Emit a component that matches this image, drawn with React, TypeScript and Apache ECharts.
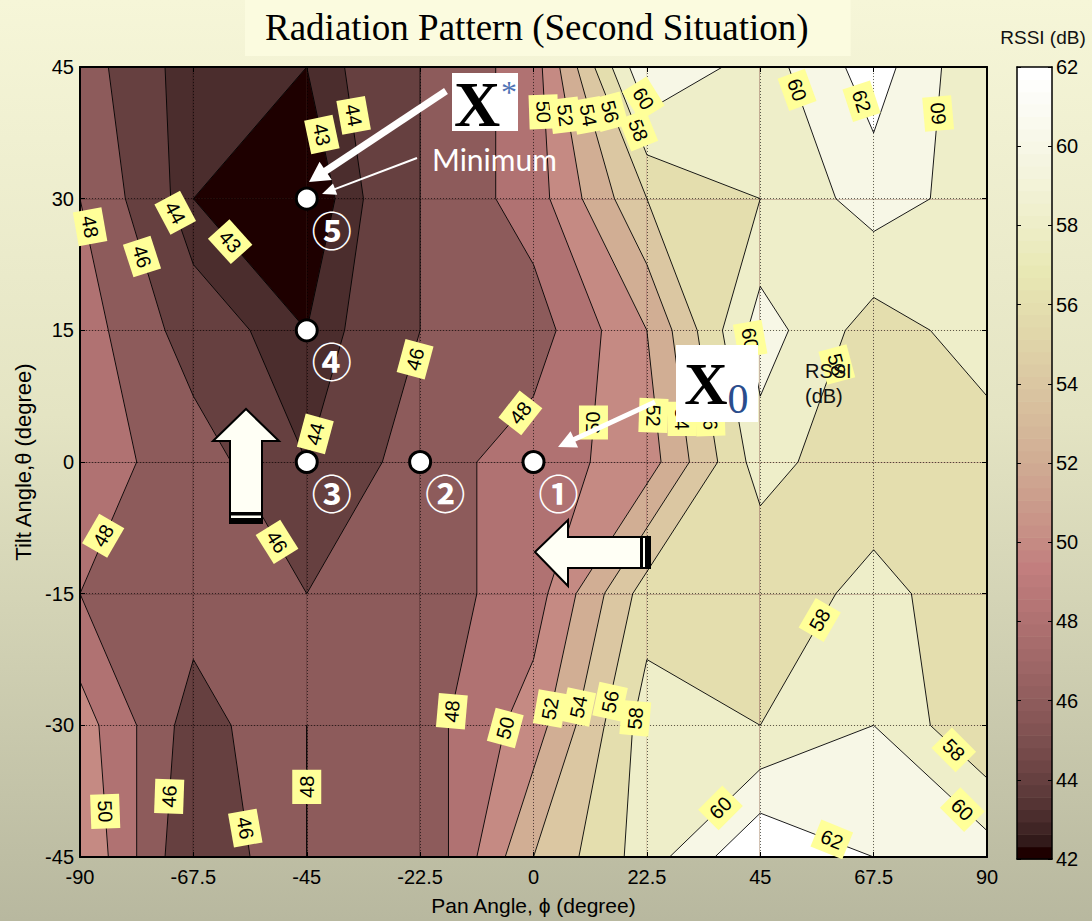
import React, { useEffect, useRef } from "react";
import * as echarts from "echarts";

// ---------- data ----------
const panAngles = [-90, -67.5, -45, -22.5, 0, 22.5, 45, 67.5, 90];
const tiltAngles = [-45, -30, -15, 0, 15, 30, 45];

// RSSI (dB) measured at each pan angle, one row per tilt angle
const rssiTiltMinus45 = [52, 44, 48, 46, 54, 59, 64, 62, 61];
const rssiTiltMinus30 = [51, 45, 48, 47, 51, 59, 58, 60, 56];
const rssiTiltMinus15 = [48, 47, 46, 47, 49, 57, 56, 59, 56];
const rssiTilt0 = [49, 47, 44, 47, 49, 51, 59, 56, 57];
const rssiTilt15 = [49, 45, 43, 46, 47, 52, 61, 57, 59];
const rssiTilt30 = [48, 43, 42, 46, 49, 56, 58, 61, 59];
const rssiTilt45 = [47, 43, 43, 46, 49, 62, 59, 63, 58];
const rssiGrid = [
  rssiTiltMinus45,
  rssiTiltMinus30,
  rssiTiltMinus15,
  rssiTilt0,
  rssiTilt15,
  rssiTilt30,
  rssiTilt45,
];

const contourLevels = [43, 44, 46, 48, 50, 52, 54, 56, 58, 60, 62];
const colorMin = 42;
const colorMax = 62;

// contour labels (position in pan/tilt, text, rotation)
const labelText = [
  "48", "46", "44", "43", "43", "44",
  "50", "52", "54", "56", "58", "60",
  "60", "62", "60",
  "60", "58", "52", "54", "56", "50", "48", "46", "44",
  "46", "48",
  "48", "50", "52", "54", "56", "58",
  "60", "62", "60", "58", "58",
  "50", "46", "46", "48",
];
const labelPan = [
  -88.0, -77.7, -71.1, -60.2, -42.0, -35.7,
  2.0, 6.3, 10.9, 15.2, 20.8, 21.8,
  52.3, 65.1, 80.3,
  43.0, 60.2, 23.8, 29.5, 35.1, 11.9, -2.6, -23.5, -43.3,
  -50.9, -85.4,
  -16.2, -5.6, 3.3, 8.9, 15.2, 20.2,
  37.1, 59.2, 85.1, 83.4, 56.8,
  -85.0, -72.3, -57.2, -45.0,
];
const labelTilt = [
  26.8, 23.4, 28.4, 25.1, 37.3, 39.5,
  39.9, 39.5, 39.5, 39.9, 37.8, 41.4,
  42.4, 41.1, 39.7,
  14.0, 11.1, 5.3, 4.9, 4.9, 4.5, 5.6, 11.7, 3.2,
  -9.1, -8.4,
  -28.4, -30.3, -28.1, -27.9, -27.3, -29.2,
  -39.4, -43.0, -39.6, -32.8, -18.0,
  -39.8, -38.1, -41.7, -37.0,
];
const labelRotate = [
  -80, -72, -62, -48, -78, -80,
  -88, -83, -80, -75, -68, -58,
  -70, -72, 95,
  -80, -75, -92, -90, -88, 90, 52, 75, 75,
  -58, 60,
  85, 75, 80, 78, 78, 85,
  45, -22, -45, -45, 60,
  -88, 88, -80, 90,
];

// search steps
const stepPan = [0, -22.5, -45, -45, -45];
const stepTilt = [0, 0, 0, 15, 30];
const stepMarks = ["①", "②", "③", "④", "⑤"];

// ---------- helpers ----------
const fontSans = '"Liberation Sans", Arial, sans-serif';
const fontSerif = '"Liberation Serif", "Times New Roman", serif';

function pinkColor(v: number): string {
  let k = Math.floor(((v - colorMin) / (colorMax - colorMin)) * 64);
  k = Math.max(0, Math.min(63, k));
  const gray = k / 63;
  const n = 24;
  const hr = k < n ? (k + 1) / n : 1;
  const hg = k < n ? 0 : k < 2 * n ? (k - n + 1) / n : 1;
  const hb = k < 2 * n ? 0 : (k - 2 * n + 1) / (64 - 2 * n);
  const c = (h: number) => Math.round(255 * Math.sqrt((2 * gray + h) / 3));
  return `rgb(${c(hr)},${c(hg)},${c(hb)})`;
}

type Corner = { x: number; y: number; v: number };

function interp(a: Corner, b: Corner, L: number): number[] {
  const t = (L - a.v) / (b.v - a.v);
  return [a.x + t * (b.x - a.x), a.y + t * (b.y - a.y)];
}

function superLevel(c: Corner[], L: number): number[][][] {
  const hi = c.map((p) => p.v >= L);
  const nHi = hi.filter(Boolean).length;
  if (nHi === 0) return [];
  if (nHi === 4) return [c.map((p) => [p.x, p.y])];
  const saddle = nHi === 2 && hi[0] === hi[2];
  const center = (c[0].v + c[1].v + c[2].v + c[3].v) / 4;
  if (saddle && center < L) {
    const out: number[][][] = [];
    for (let k = 0; k < 4; k++) {
      if (!hi[k]) continue;
      const prev = c[(k + 3) % 4];
      const next = c[(k + 1) % 4];
      out.push([interp(prev, c[k], L), [c[k].x, c[k].y], interp(c[k], next, L)]);
    }
    return out;
  }
  const pts: number[][] = [];
  for (let k = 0; k < 4; k++) {
    const a = c[k];
    const b = c[(k + 1) % 4];
    if (hi[k]) pts.push([a.x, a.y]);
    if (hi[k] !== hi[(k + 1) % 4]) pts.push(interp(a, b, L));
  }
  return [pts];
}

function contourSegments(c: Corner[], L: number): number[][][] {
  const hi = c.map((p) => p.v >= L);
  const cross: (number[] | null)[] = [];
  const edges: number[] = [];
  for (let k = 0; k < 4; k++) {
    const k2 = (k + 1) % 4;
    if (hi[k] !== hi[k2]) {
      cross[k] = interp(c[k], c[k2], L);
      edges.push(k);
    } else cross[k] = null;
  }
  if (edges.length === 2) return [[cross[edges[0]]!, cross[edges[1]]!]];
  if (edges.length === 4) {
    const center = (c[0].v + c[1].v + c[2].v + c[3].v) / 4;
    const isolateHigh = center < L;
    const segs: number[][][] = [];
    for (let k = 0; k < 4; k++) {
      if (hi[k] === isolateHigh) segs.push([cross[(k + 3) % 4]!, cross[k]!]);
    }
    return segs;
  }
  return [];
}

function cellCorners(i: number, j: number): Corner[] {
  return [
    { x: panAngles[i], y: tiltAngles[j], v: rssiGrid[j][i] },
    { x: panAngles[i + 1], y: tiltAngles[j], v: rssiGrid[j][i + 1] },
    { x: panAngles[i + 1], y: tiltAngles[j + 1], v: rssiGrid[j + 1][i + 1] },
    { x: panAngles[i], y: tiltAngles[j + 1], v: rssiGrid[j + 1][i] },
  ];
}

const cellIndex: number[][] = [];
for (let j = 0; j < tiltAngles.length - 1; j++)
  for (let i = 0; i < panAngles.length - 1; i++) cellIndex.push([i, j]);

const colorbarSteps: number[] = [];
for (let s = 0; s < 64; s++) colorbarSteps.push(colorMin + (s * (colorMax - colorMin)) / 64);

function arrow(x1: number, y1: number, x2: number, y2: number, w: number, hl: number, hw: number) {
  const dx = x2 - x1;
  const dy = y2 - y1;
  const len = Math.sqrt(dx * dx + dy * dy);
  const ux = dx / len;
  const uy = dy / len;
  const nx = -uy;
  const ny = ux;
  const bx = x2 - ux * hl;
  const by = y2 - uy * hl;
  return [
    {
      type: "line",
      shape: { x1, y1, x2: bx + ux * 1, y2: by + uy * 1 },
      style: { stroke: "#ffffff", lineWidth: w },
      z: 100,
    },
    {
      type: "polygon",
      shape: {
        points: [
          [x2, y2],
          [bx + nx * hw, by + ny * hw],
          [bx - nx * hw, by - ny * hw],
        ],
      },
      style: { fill: "#ffffff" },
      z: 100,
    },
  ];
}

function buildOption(): any {
  const axisCommon = {
    type: "value",
    axisLine: { show: true, onZero: false, lineStyle: { color: "#000", width: 2 } },
    axisTick: { show: true, inside: true, length: 5, lineStyle: { color: "#000", width: 1 } },
    z: 5,
  };
  const gridLine = { show: true, lineStyle: { color: "rgba(0,0,0,0.6)", type: [1, 2], width: 1 } };

  return {
    animation: false,
    backgroundColor: "transparent",
    title: {
      text: "Radiation Pattern (Second Situation)",
      left: 245,
      top: 0,
      padding: [9, 42, 10, 20],
      backgroundColor: "#fbfbdf",
      textStyle: { fontFamily: fontSerif, fontSize: 37, fontWeight: "normal", color: "#000" },
    },
    grid: [
      { left: 80, top: 67, width: 907, height: 792 },
      { left: 1017, top: 67, width: 35, height: 792 },
    ],
    xAxis: [
      {
        ...axisCommon,
        gridIndex: 0,
        min: -90,
        max: 90,
        interval: 22.5,
        position: "bottom",
        axisLabel: { fontSize: 20, color: "#000", fontFamily: fontSans, margin: 10 },
        splitLine: gridLine,
        name: "Pan Angle, ϕ (degree)",
        nameLocation: "middle",
        nameGap: 38,
        nameTextStyle: { fontSize: 21, color: "#000", fontFamily: fontSans },
      },
      {
        ...axisCommon,
        gridIndex: 0,
        min: -90,
        max: 90,
        interval: 22.5,
        position: "top",
        axisLabel: { show: false },
        splitLine: { show: false },
      },
      {
        ...axisCommon,
        gridIndex: 1,
        min: 0,
        max: 1,
        position: "bottom",
        axisLine: { show: true, onZero: false, lineStyle: { color: "#000", width: 1.5 } },
        axisTick: { show: false },
        axisLabel: { show: false },
        splitLine: { show: false },
      },
      {
        ...axisCommon,
        gridIndex: 1,
        min: 0,
        max: 1,
        position: "top",
        axisLine: { show: true, onZero: false, lineStyle: { color: "#000", width: 1.5 } },
        axisTick: { show: false },
        axisLabel: { show: false },
        splitLine: { show: false },
      },
    ],
    yAxis: [
      {
        ...axisCommon,
        gridIndex: 0,
        min: -45,
        max: 45,
        interval: 15,
        position: "left",
        axisLabel: { fontSize: 20, color: "#000", fontFamily: fontSans, margin: 6 },
        splitLine: gridLine,
        name: "Tilt Angle,θ (degree)",
        nameLocation: "middle",
        nameGap: 45,
        nameRotate: 90,
        nameTextStyle: { fontSize: 22, color: "#000", fontFamily: fontSans },
      },
      {
        ...axisCommon,
        gridIndex: 0,
        min: -45,
        max: 45,
        interval: 15,
        position: "right",
        axisLabel: { show: false },
        splitLine: { show: false },
      },
      {
        ...axisCommon,
        gridIndex: 1,
        min: colorMin,
        max: colorMax,
        interval: 2,
        position: "right",
        axisLine: { show: true, onZero: false, lineStyle: { color: "#000", width: 1.5 } },
        axisTick: { show: true, inside: true, length: 4, lineStyle: { color: "#000" } },
        axisLabel: { fontSize: 20, color: "#000", fontFamily: fontSans, margin: 4 },
        splitLine: { show: false },
      },
      {
        ...axisCommon,
        gridIndex: 1,
        min: colorMin,
        max: colorMax,
        interval: 2,
        position: "left",
        axisLine: { show: true, onZero: false, lineStyle: { color: "#000", width: 1.5 } },
        axisTick: { show: true, inside: true, length: 4, lineStyle: { color: "#000" } },
        axisLabel: { show: false },
        splitLine: { show: false },
      },
    ],
    series: [
      {
        type: "custom",
        name: "fill",
        coordinateSystem: "cartesian2d",
        xAxisIndex: 0,
        yAxisIndex: 0,
        z: 1,
        silent: true,
        data: cellIndex.map(([i, j]) => [panAngles[i], tiltAngles[j]]),
        renderItem: (params: any, api: any) => {
          const [i, j] = cellIndex[params.dataIndex];
          const c = cellCorners(i, j);
          const toPx = (pts: number[][]) => pts.map((p) => api.coord(p));
          const children: any[] = [];
          const base = pinkColor(colorMin);
          children.push({
            type: "polygon",
            shape: { points: toPx(c.map((p) => [p.x, p.y])) },
            style: { fill: base, stroke: base, lineWidth: 0.6 },
          });
          for (const L of contourLevels) {
            const col = pinkColor(L);
            for (const shp of superLevel(c, L)) {
              children.push({
                type: "polygon",
                shape: { points: toPx(shp) },
                style: { fill: col, stroke: col, lineWidth: 0.6 },
              });
            }
          }
          return { type: "group", children };
        },
      },
      {
        type: "custom",
        name: "contours",
        coordinateSystem: "cartesian2d",
        xAxisIndex: 0,
        yAxisIndex: 0,
        z: 3,
        silent: true,
        data: cellIndex.map(([i, j]) => [panAngles[i], tiltAngles[j]]),
        renderItem: (params: any, api: any) => {
          const [i, j] = cellIndex[params.dataIndex];
          const c = cellCorners(i, j);
          const children: any[] = [];
          for (const L of contourLevels) {
            for (const seg of contourSegments(c, L)) {
              children.push({
                type: "polyline",
                shape: { points: seg.map((p) => api.coord(p)) },
                style: { stroke: "#000", lineWidth: 0.9, fill: "none" },
              });
            }
          }
          return { type: "group", children };
        },
      },
      {
        type: "custom",
        name: "colorbar",
        coordinateSystem: "cartesian2d",
        xAxisIndex: 2,
        yAxisIndex: 2,
        z: 1,
        silent: true,
        data: colorbarSteps.map((v) => [0, v]),
        renderItem: (params: any, api: any) => {
          const v = colorbarSteps[params.dataIndex];
          const step = (colorMax - colorMin) / 64;
          const p0 = api.coord([0, v]);
          const p1 = api.coord([1, v + step]);
          const col = pinkColor(v + step / 2);
          return {
            type: "rect",
            shape: { x: p0[0], y: p1[1], width: p1[0] - p0[0], height: p0[1] - p1[1] + 0.5 },
            style: { fill: col },
          };
        },
      },
      {
        type: "scatter",
        name: "labels",
        xAxisIndex: 0,
        yAxisIndex: 0,
        z: 10,
        silent: true,
        symbolSize: 0.1,
        itemStyle: { color: "rgba(0,0,0,0)", opacity: 1 },
        data: labelText.map((t, k) => ({
          value: [labelPan[k], labelTilt[k]],
          label: { rotate: labelRotate[k], formatter: t },
        })),
        label: {
          show: true,
          position: "inside",
          color: "#000",
          fontSize: 20,
          fontFamily: fontSans,
          backgroundColor: "#ffff99",
          padding: [5, 6, 4, 6],
        },
      },
      {
        type: "scatter",
        name: "steps",
        xAxisIndex: 0,
        yAxisIndex: 0,
        z: 12,
        silent: true,
        symbol: "circle",
        symbolSize: 21,
        itemStyle: { color: "#ffffff", borderColor: "#000", borderWidth: 3, opacity: 1 },
        data: stepPan.map((p, k) => ({
          value: [p, stepTilt[k]],
          label: { formatter: stepMarks[k] },
        })),
        label: {
          show: true,
          position: "inside",
          offset: [25, 30],
          color: "#ffffff",
          fontSize: 40,
          fontWeight: "bold",
          fontFamily: '"Noto Sans CJK JP", "DejaVu Sans", sans-serif',
        },
      },
    ],
    graphic: [
      // colorbar title
      {
        type: "text",
        x: 1043,
        y: 37,
        z: 100,
        style: {
          text: "RSSI (dB)",
          font: `19px ${fontSans}`,
          fill: "#111",
          textAlign: "center",
          textVerticalAlign: "middle",
          align: "center",
          verticalAlign: "middle",
        },
      },
      // in-plot RSSI text
      {
        type: "text",
        x: 805,
        y: 358,
        z: 100,
        style: {
          text: "RSSI\n(dB)",
          font: `20px ${fontSans}`,
          lineHeight: 25,
          fill: "#111",
          textAlign: "left",
          textVerticalAlign: "top",
          align: "left",
          verticalAlign: "top",
        },
      },
      // Minimum text
      {
        type: "text",
        x: 432,
        y: 159,
        z: 100,
        style: {
          text: "Minimum",
          font: `30px Lato, "Open Sans", sans-serif`,
          fill: "#ffffff",
          textAlign: "left",
          textVerticalAlign: "middle",
          align: "left",
          verticalAlign: "middle",
        },
      },
      ...arrow(446, 91, 309, 182, 7, 20, 11),
      ...arrow(417, 158, 322, 194, 2, 14, 6),
      ...arrow(655, 402, 558, 447, 5, 18, 9),
      // X* box
      { type: "rect", z: 100, shape: { x: 452, y: 73, width: 66, height: 58 }, style: { fill: "#ffffff" } },
      {
        type: "text",
        x: 477,
        y: 104,
        z: 101,
        style: {
          text: "X",
          font: `bold 64px ${fontSerif}`,
          fill: "#000",
          textAlign: "center",
          textVerticalAlign: "middle",
          align: "center",
          verticalAlign: "middle",
        },
      },
      {
        type: "text",
        x: 509,
        y: 92,
        z: 101,
        style: {
          text: "*",
          font: `32px ${fontSerif}`,
          fill: "#4f73b5",
          textAlign: "center",
          textVerticalAlign: "middle",
          align: "center",
          verticalAlign: "middle",
        },
      },
      // X0 box
      { type: "rect", z: 100, shape: { x: 676, y: 345, width: 82, height: 77 }, style: { fill: "#ffffff" } },
      {
        type: "text",
        x: 706,
        y: 384,
        z: 101,
        style: {
          text: "X",
          font: `bold 60px ${fontSerif}`,
          fill: "#000",
          textAlign: "center",
          textVerticalAlign: "middle",
          align: "center",
          verticalAlign: "middle",
        },
      },
      {
        type: "text",
        x: 738,
        y: 399,
        z: 101,
        style: {
          text: "0",
          font: `42px ${fontSerif}`,
          fill: "#2a4c8c",
          textAlign: "center",
          textVerticalAlign: "middle",
          align: "center",
          verticalAlign: "middle",
        },
      },
      // up block arrow
      {
        type: "polygon",
        z: 100,
        shape: {
          points: [
            [230, 523],
            [230, 441],
            [213, 441],
            [246, 409],
            [279, 441],
            [262, 441],
            [262, 523],
          ],
        },
        style: { fill: "#fffff5", stroke: "#000", lineWidth: 2 },
      },
      { type: "rect", z: 101, shape: { x: 230, y: 512, width: 32, height: 3.5 }, style: { fill: "#000" } },
      { type: "rect", z: 101, shape: { x: 230, y: 518, width: 32, height: 5.5 }, style: { fill: "#000" } },
      // left block arrow
      {
        type: "polygon",
        z: 100,
        shape: {
          points: [
            [535, 552],
            [568, 520],
            [568, 537],
            [650, 537],
            [650, 568],
            [568, 568],
            [568, 586],
          ],
        },
        style: { fill: "#fffff5", stroke: "#000", lineWidth: 2 },
      },
      { type: "rect", z: 101, shape: { x: 640, y: 537, width: 3, height: 31 }, style: { fill: "#000" } },
      { type: "rect", z: 101, shape: { x: 645, y: 537, width: 5, height: 31 }, style: { fill: "#000" } },
    ],
  };
}

export default function App() {
  const ref = useRef<HTMLDivElement>(null);
  useEffect(() => {
    const chart = echarts.init(ref.current!, null, { renderer: "svg" });
    chart.setOption(buildOption());
    return () => chart.dispose();
  }, []);
  return (
    <div
      style={{
        position: "fixed",
        left: 0,
        top: 0,
        width: 1092,
        height: 921,
        background: "linear-gradient(to bottom, #f6f6d8 0%, #e4e4c3 45%, #b8b89f 100%)",
      }}
    >
      <div ref={ref} style={{ width: 1092, height: 921 }} />
    </div>
  );
}
